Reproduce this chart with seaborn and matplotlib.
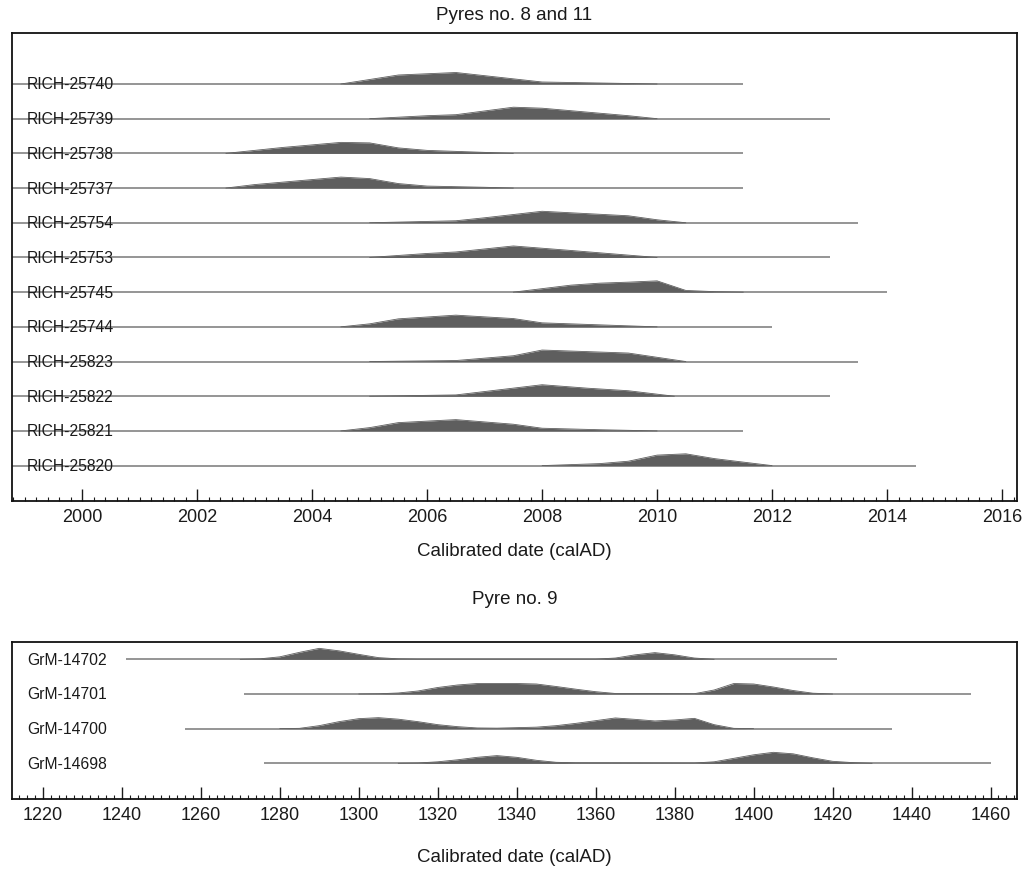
import numpy as np
import pandas as pd
import matplotlib
matplotlib.use("Agg")
import matplotlib.pyplot as plt
import matplotlib.transforms as mtrans
from matplotlib.ticker import MultipleLocator
import seaborn as sns

sns.set_theme(style="white")
plt.rcParams['font.family'] = ['Liberation Sans', 'DejaVu Sans']

# ---------------- Data: Pyres no. 8 and 11 ----------------
top_labels = ['RICH-25740', 'RICH-25739', 'RICH-25738', 'RICH-25737', 'RICH-25754', 'RICH-25753',
              'RICH-25745', 'RICH-25744', 'RICH-25823', 'RICH-25822', 'RICH-25821', 'RICH-25820']
top_start = [1998.0] * 12
top_end = [2011.5, 2013.0, 2011.5, 2011.5, 2013.5, 2013.0, 2014.0, 2012.0, 2013.5, 2013.0, 2011.5, 2014.5]

x_25740 = [2004.5, 2005.5, 2006.5, 2008.0, 2009.0, 2010.0]
p_25740 = [0, 9, 11.5, 2, 1, 0]
x_25739 = [2005.0, 2006.0, 2006.5, 2007.5, 2008.0, 2009.5, 2010.0]
p_25739 = [0, 3, 4, 11.5, 10.5, 3, 0]
x_25738 = [2002.5, 2003.0, 2003.5, 2004.5, 2005.0, 2005.5, 2006.0, 2007.0, 2007.5]
p_25738 = [0, 3, 6, 11, 10.5, 5.5, 3, 1, 0]
x_25737 = [2002.5, 2003.0, 2003.5, 2004.5, 2005.0, 2005.5, 2006.0, 2007.0, 2007.5]
p_25737 = [0, 3.5, 6, 11, 9.5, 4.5, 2, 0.8, 0]
x_25754 = [2005.0, 2006.5, 2007.0, 2008.0, 2009.5, 2010.0, 2010.5]
p_25754 = [0, 2, 5, 11.5, 7, 3, 0]
x_25753 = [2005.0, 2006.0, 2006.5, 2007.5, 2008.5, 2010.0]
p_25753 = [0, 4, 5.5, 11.5, 7, 0]
x_25745 = [2007.5, 2008.0, 2008.5, 2009.0, 2009.5, 2010.0, 2010.5, 2011.0, 2011.5]
p_25745 = [0, 3.5, 7, 9, 10, 11.3, 1.7, 0.5, 0]
x_25744 = [2004.5, 2005.0, 2005.5, 2006.5, 2007.5, 2008.0, 2009.0, 2010.0]
p_25744 = [0, 3, 8, 11.7, 8.3, 4, 2, 0]
x_25823 = [2005.0, 2006.5, 2007.5, 2008.0, 2009.5, 2010.5]
p_25823 = [0, 1, 5.8, 11.5, 8.5, 0]
x_25822 = [2005.0, 2006.5, 2008.0, 2008.8, 2009.5, 2010.3]
p_25822 = [0, 1.3, 11.5, 8, 5.5, 0]
x_25821 = [2004.5, 2005.0, 2005.5, 2006.5, 2007.5, 2008.0, 2009.0, 2010.0]
p_25821 = [0, 3.3, 8.3, 11.3, 6.7, 2.7, 1.2, 0]
x_25820 = [2008.0, 2009.0, 2009.5, 2010.0, 2010.5, 2011.0, 2012.0]
p_25820 = [0, 2, 4.4, 10.5, 11.8, 7, 0]

top_x = [x_25740, x_25739, x_25738, x_25737, x_25754, x_25753,
         x_25745, x_25744, x_25823, x_25822, x_25821, x_25820]
top_p = [p_25740, p_25739, p_25738, p_25737, p_25754, p_25753,
         p_25745, p_25744, p_25823, p_25822, p_25821, p_25820]

# ---------------- Data: Pyre no. 9 ----------------
bot_labels = ['GrM-14702', 'GrM-14701', 'GrM-14700', 'GrM-14698']
bot_start = [1241, 1271, 1256, 1276]
bot_end = [1421, 1455, 1435, 1460]

x_14702 = [1270, 1275, 1280, 1285, 1290, 1295, 1300, 1305, 1310, 1315, 1360, 1365, 1370, 1375, 1380, 1385, 1390]
p_14702 = [0, 0.5, 2.5, 7, 11, 8.5, 5, 1.7, 0.5, 0.2, 0.2, 1.3, 4.5, 6.7, 4.5, 1.3, 0]
x_14701 = [1300, 1305, 1310, 1315, 1320, 1325, 1330, 1340, 1345, 1350, 1355, 1360, 1365,
           1385, 1390, 1395, 1400, 1405, 1410, 1415, 1420]
p_14701 = [0, 0.2, 1, 3, 6.5, 9, 10.5, 10.5, 10, 7.5, 4.8, 2.3, 0.5,
           0.3, 4, 10.5, 10, 7, 3.5, 0.8, 0]
x_14700 = [1280, 1285, 1290, 1295, 1300, 1305, 1310, 1315, 1320, 1325, 1330, 1335, 1340,
           1345, 1350, 1355, 1360, 1365, 1370, 1375, 1380, 1385, 1390, 1395, 1400]
p_14700 = [0, 0.3, 3, 7, 10, 11, 9.5, 7, 4, 2, 0.7, 0.5, 1,
           1.5, 3, 5.3, 8, 10.7, 9.3, 7.7, 8.7, 10.3, 4, 0.3, 0]
x_14698 = [1310, 1315, 1320, 1325, 1330, 1335, 1340, 1345, 1350, 1355,
           1385, 1390, 1395, 1400, 1405, 1410, 1415, 1420, 1425, 1430]
p_14698 = [0, 0.3, 1.5, 3.5, 6, 7.7, 6, 3, 1, 0.5,
           0.3, 1.5, 5, 8.5, 11, 9.5, 5.5, 2, 0.7, 0]

bot_x = [x_14702, x_14701, x_14700, x_14698]
bot_p = [p_14702, p_14701, p_14700, p_14698]

# ---------------- Styling ----------------
W, H = 1022, 871
ROW_PX = 34.7
SCALE = 1.0 / ROW_PX
FILL = '#5e5e5e'
LINE = '#959595'

fig = plt.figure(figsize=(W / 100, H / 100), dpi=100)
fig.patch.set_facecolor('white')

ax1 = fig.add_axes([12 / W, 1 - 501 / H, (1017 - 12) / W, (501 - 33) / H])
ax2 = fig.add_axes([12 / W, 1 - 799 / H, (1017 - 12) / W, (799 - 642) / H])


def draw_panel(ax, labels, starts, ends, xs, ps, xlim, ylim, major, minor):
    for i, lab in enumerate(labels):
        ax.plot([starts[i], ends[i]], [i, i], color=LINE, lw=1.4,
                solid_capstyle='butt', zorder=1)
        x = np.asarray(xs[i], dtype=float)
        p = np.asarray(ps[i], dtype=float) * SCALE
        ax.fill_between(x, i, i - p, color=FILL, lw=0, zorder=2)
        df = pd.DataFrame({'year': x, 'y': i - p})
        sns.lineplot(data=df, x='year', y='y', ax=ax, color=FILL, lw=0.6,
                     sort=False, estimator=None, zorder=2)
        trans = mtrans.offset_copy(mtrans.blended_transform_factory(ax.transAxes, ax.transData),
                                   fig=fig, x=0, y=-5.5, units='dots')
        ax.text((27 - 12) / (1017 - 12), i, lab, transform=trans, ha='left', va='baseline',
                fontsize=11.3, color='#1a1a1a', zorder=3)
    ax.set_xlim(*xlim)
    ax.set_ylim(*ylim)
    ax.set_yticks([])
    ax.set_xlabel('')
    ax.set_ylabel('')
    ax.xaxis.set_major_locator(MultipleLocator(major))
    ax.xaxis.set_minor_locator(MultipleLocator(minor))
    ax.tick_params(axis='x', which='major', direction='in', length=8.6, width=1.0,
                   pad=6, labelsize=13, colors='#1a1a1a', bottom=True, top=False)
    ax.tick_params(axis='x', which='minor', direction='in', length=3.0, width=0.8,
                   bottom=True, top=False, colors='#1a1a1a')
    for s in ax.spines.values():
        s.set_visible(True)
        s.set_color('#111111')
        s.set_linewidth(1.3)
    ax.set_facecolor('white')


draw_panel(ax1, top_labels, top_start, top_end, top_x, top_p,
           (1998.78, 2016.26), (12.02, -1.47), 2, 0.2)
draw_panel(ax2, bot_labels, bot_start, bot_end, bot_x, bot_p,
           (1212.2, 1466.7), (4.03, -0.5), 20, 2)

cx = (12 + 1017) / 2 / W
fig.text(cx, 1 - 16 / H, 'Pyres no. 8 and 11', ha='center', va='center', fontsize=13.5, color='#1a1a1a')
fig.text(cx, 1 - 551 / H, 'Calibrated date (calAD)', ha='center', va='center', fontsize=13.5, color='#1a1a1a')
fig.text(cx, 1 - 599 / H, 'Pyre no. 9', ha='center', va='center', fontsize=13.5, color='#1a1a1a')
fig.text(cx, 1 - 857 / H, 'Calibrated date (calAD)', ha='center', va='center', fontsize=13.5, color='#1a1a1a')

fig.savefig('out.png', dpi=100, facecolor='white')
